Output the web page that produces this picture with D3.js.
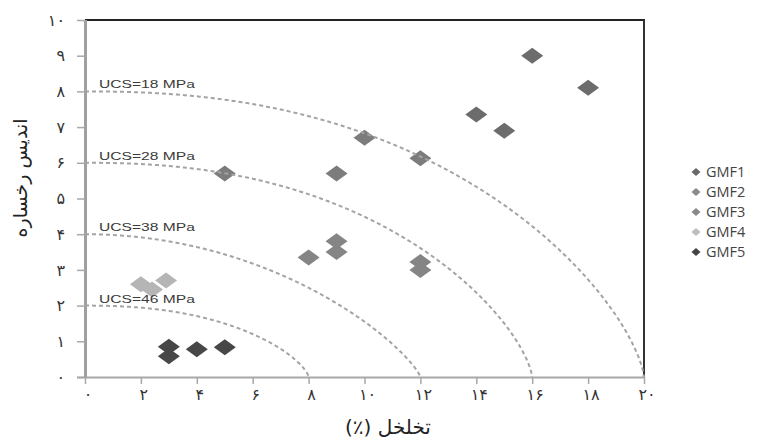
<!DOCTYPE html>
<html>
<head>
<meta charset="utf-8">
<script src="https://cdn.jsdelivr.net/npm/d3@7"></script>
<style>
  body { margin: 0; background: #fff; }
  svg { display: block; }
</style>
</head>
<body>
<svg id="chart" width="758" height="439"></svg>
<script>
// Facies index against porosity for the five GMF groups
const seriesNames = ["GMF1", "GMF2", "GMF3", "GMF4", "GMF5"];
const gmf1Porosity = [16, 18, 14, 15];
const gmf1Facies   = [9.0, 8.1, 7.35, 6.9];
const gmf2Porosity = [10, 12, 5, 9];
const gmf2Facies   = [6.7, 6.13, 5.7, 5.7];
const gmf3Porosity = [9, 9, 8, 12, 12];
const gmf3Facies   = [3.8, 3.5, 3.35, 3.22, 3.0];
const gmf4Porosity = [2, 2.4, 2.9];
const gmf4Facies   = [2.6, 2.45, 2.7];
const gmf5Porosity = [3, 3, 4, 5];
const gmf5Facies   = [0.85, 0.58, 0.78, 0.83];

const xTickValues = [0, 2, 4, 6, 8, 10, 12, 14, 16, 18, 20];
const xTickLabels = ["۰", "۲", "۴", "۶", "۸", "۱۰", "۱۲", "۱۴", "۱۶", "۱۸", "۲۰"];
const yTickValues = [0, 1, 2, 3, 4, 5, 6, 7, 8, 9, 10];
const yTickLabels = ["۰", "۱", "۲", "۳", "۴", "۵", "۶", "۷", "۸", "۹", "۱۰"];

// Equal-strength (UCS) contours: porosity intercept, facies intercept, shape exponents
const ucsLabels      = ["UCS=18 MPa", "UCS=28 MPa", "UCS=38 MPa", "UCS=46 MPa"];
const ucsPorosityEnd = [20, 16, 12, 8];
const ucsFaciesStart = [8, 6, 4, 2];
const ucsShapeP      = [2.3, 2.3, 2.0, 2.3];
const ucsShapeQ      = [0.7, 0.7, 0.8, 0.7];

const xTitle = "تخلخل (٪)";
const yTitle = "اندیس رخساره";

const series = [
  { name: seriesNames[0], xs: gmf1Porosity, ys: gmf1Facies, color: "#6c6c6c" },
  { name: seriesNames[1], xs: gmf2Porosity, ys: gmf2Facies, color: "#7c7c7c" },
  { name: seriesNames[2], xs: gmf3Porosity, ys: gmf3Facies, color: "#858585" },
  { name: seriesNames[3], xs: gmf4Porosity, ys: gmf4Facies, color: "#b5b5b5" },
  { name: seriesNames[4], xs: gmf5Porosity, ys: gmf5Facies, color: "#474747" }
];
const legendColors = ["#6a6a6a", "#8a8a8a", "#8a8a8a", "#bdbdbd", "#444444"];

const svg = d3.select("#chart");
const plot = { left: 85, top: 20, right: 644, bottom: 377 };

const x = d3.scaleLinear().domain([0, 20]).range([plot.left, plot.right]);
const y = d3.scaleLinear().domain([0, 10]).range([plot.bottom, plot.top]);

// frame: black top and right edges
svg.append("line").attr("x1", plot.left).attr("x2", plot.right + 1)
  .attr("y1", plot.top).attr("y2", plot.top)
  .attr("stroke", "#222").attr("stroke-width", 2);
svg.append("line").attr("x1", plot.right).attr("x2", plot.right)
  .attr("y1", plot.top).attr("y2", plot.bottom)
  .attr("stroke", "#333").attr("stroke-width", 2);

// axes
const digitFont = "'DejaVu Sans', sans-serif";
const xAxis = svg.append("g")
  .attr("transform", `translate(0,${plot.bottom})`)
  .call(d3.axisBottom(x).tickValues(xTickValues)
    .tickFormat((d, i) => xTickLabels[i]).tickSize(7).tickSizeOuter(0).tickPadding(5));
xAxis.select(".domain").attr("stroke", "#a8a8a8").attr("stroke-width", 2)
  .attr("d", `M${plot.left - 8},0.5H${plot.right + 1}`);
xAxis.selectAll(".tick line").attr("stroke", "#a8a8a8").attr("stroke-width", 1.5);
xAxis.selectAll(".tick text")
  .attr("font-family", digitFont).attr("font-size", 16).attr("fill", "#333")
  .attr("letter-spacing", 5).attr("dx", 2.5);

const yAxis = svg.append("g")
  .attr("transform", `translate(${plot.left},0)`)
  .call(d3.axisLeft(y).tickValues(yTickValues)
    .tickFormat((d, i) => yTickLabels[i]).tickSize(8).tickSizeOuter(0).tickPadding(17));
yAxis.select(".domain").attr("stroke", "#a0a0a0").attr("stroke-width", 3)
  .attr("d", `M0.5,${plot.top}V${plot.bottom + 1}`);
yAxis.selectAll(".tick line").attr("stroke", "#a8a8a8").attr("stroke-width", 1.5);
yAxis.selectAll(".tick text")
  .attr("font-family", digitFont).attr("font-size", 16).attr("fill", "#333")
  .attr("letter-spacing", 5).attr("dx", 5);

// data markers: flattened diamonds
const diamond = "M0,-8L11,0L0,8L-11,0Z";
series.forEach(s => {
  svg.append("g").selectAll("path")
    .data(s.xs.map((v, i) => [v, s.ys[i]]))
    .join("path")
    .attr("d", diamond)
    .attr("transform", d => `translate(${x(d[0])},${y(d[1])})`)
    .attr("fill", s.color);
});

// UCS contours drawn over the markers
const line = d3.line().x(d => x(d[0])).y(d => y(d[1]));
ucsLabels.forEach((label, k) => {
  const a = ucsPorosityEnd[k], b = ucsFaciesStart[k];
  const p = ucsShapeP[k], q = ucsShapeQ[k];
  const pts = d3.range(0, 401).map(i => {
    const u = i / 400;
    return [a * u, b * Math.pow(Math.max(0, 1 - Math.pow(u, p)), q)];
  });
  svg.append("path").attr("d", line(pts))
    .attr("fill", "none").attr("stroke", "#a4a4a4")
    .attr("stroke-width", 2).attr("stroke-dasharray", "4,3");
  const lx = x(0.5), ly = y(b) - 3;
  svg.append("text").text(label)
    .attr("transform", `translate(${lx},${ly}) scale(1.42,1)`)
    .attr("font-family", "'Liberation Sans', Arial, sans-serif")
    .attr("font-size", 11).attr("fill", "#3a3a3a");
});

// legend
const legend = svg.append("g");
seriesNames.forEach((name, i) => {
  const ly = 172 + i * 20;
  legend.append("path").attr("d", "M0,-4L4.5,0L0,4L-4.5,0Z")
    .attr("transform", `translate(696,${ly})`).attr("fill", legendColors[i]);
  legend.append("text").text(name)
    .attr("x", 706).attr("y", ly + 5)
    .attr("font-family", "'Open Sans', sans-serif").attr("font-size", 14.5)
    .attr("fill", "#444");
});

// axis titles
svg.append("text").text(xTitle)
  .attr("x", 388).attr("y", 434)
  .attr("direction", "rtl").attr("text-anchor", "middle")
  .attr("font-family", "'DejaVu Sans', sans-serif").attr("font-size", 20)
  .attr("fill", "#222");
svg.append("text").text(yTitle)
  .attr("transform", "translate(27,178) rotate(-90)")
  .attr("direction", "rtl").attr("text-anchor", "middle")
  .attr("font-family", "'DejaVu Sans', sans-serif").attr("font-size", 19)
  .attr("fill", "#222");
</script>
</body>
</html>
